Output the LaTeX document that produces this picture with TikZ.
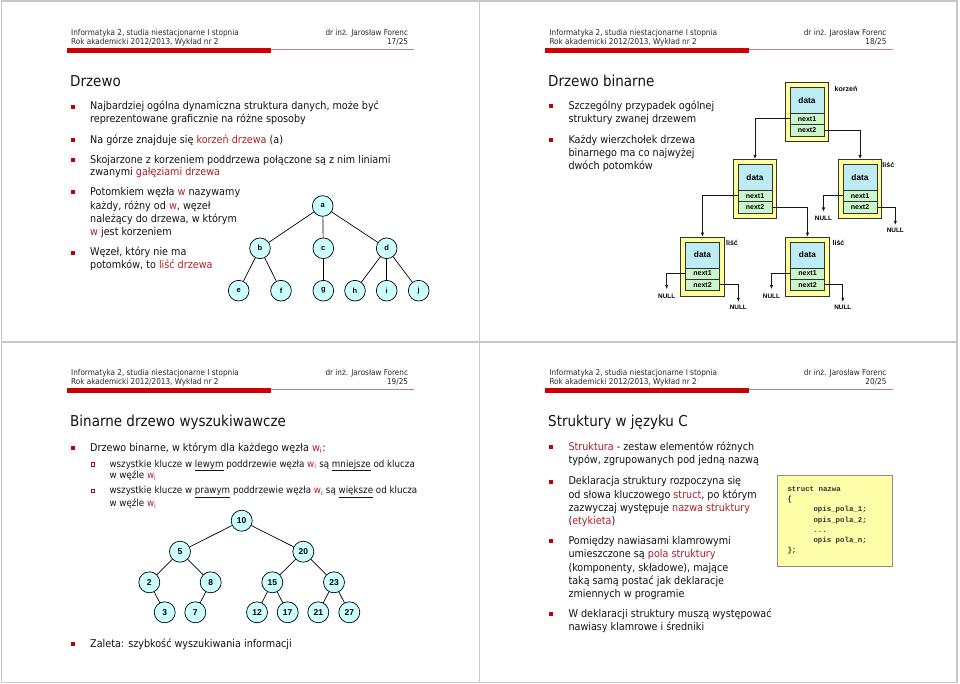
\documentclass[tikz,border=0pt]{standalone}
\usepackage{fontspec}
\setmainfont{DejaVu Sans Condensed}
\newfontfamily\arialf{Liberation Sans}
\newfontfamily\monof{Liberation Mono}
\usetikzlibrary{arrows.meta}
\definecolor{bred}{RGB}{192,0,0}
\definecolor{hred}{RGB}{180,30,40}
\definecolor{barred}{RGB}{204,0,0}
\definecolor{thinred}{RGB}{210,120,120}
\definecolor{framec}{RGB}{200,200,200}
\definecolor{ncyan}{RGB}{204,255,255}
\definecolor{dcyan}{RGB}{190,236,245}
\definecolor{ngreen}{RGB}{204,245,204}
\definecolor{nyellow}{RGB}{255,255,153}
\definecolor{cyellow}{RGB}{255,255,170}
\definecolor{txtc}{RGB}{20,20,20}
\definecolor{hdc}{RGB}{40,40,40}
\definecolor{codec}{RGB}{51,51,51}
\newcommand\hl[1]{{\color{hred}#1}}
\newcommand\wi{{\color{hred}w\textsubscript{i}}}
\newcommand\slidehdr[3]{%
\begin{scope}[shift={(#1,#2)}]
\node[hdt,anchor=base west] (hdA#3) at (71,35.8) {Informatyka 2, studia niestacjonarne I stopnia};
\node[hdt,anchor=base west] (hdB#3) at (71,44.8) {Rok akademicki 2012/2013, Wykład nr 2};
\node[hdt,anchor=base east] (hdC#3) at (408.3,35.8) {dr inż. Jarosław Forenc};
\node[hdt,anchor=base east] (hdD#3) at (408.3,44.8) {#3/25};
\fill[barred] (66.7,48.3) rectangle (270.7,53.3);
\draw[thinred,line width=0.6pt] (270.7,49) -- (414.3,49);
\end{scope}}
\newcommand\bnode[3]{%
\node[bout] (#1o) at (#2,#3+29.65) {};
\node[bdata] (#1d) at (#2,#3+18) {data};
\node[bnext] (#1a) at (#2,#3+36.5) {next1};
\node[bnext,minimum height=11.5pt] (#1b) at (#2,#3+47.75) {next2};
}
\begin{document}
\begin{tikzpicture}[x=1pt,y=-1pt,
  bt/.style={inner sep=0,font=\fontsize{10.7}{12}\selectfont,text=txtc},
  sbt/.style={inner sep=0,font=\fontsize{9.7}{11}\selectfont,text=txtc},
  hdt/.style={inner sep=0,font=\fontsize{8.1}{9}\selectfont,text=hdc},
  ttl/.style={inner sep=0,font=\fontsize{15}{18}\selectfont,text=txtc},
  bul/.style={rectangle,fill=bred,minimum size=4.3pt,inner sep=0},
  sbul/.style={rectangle,draw=bred,line width=0.6pt,fill=white,minimum size=3.6pt,inner sep=0},
  circ/.style={circle,draw=black,line width=0.7pt,fill=ncyan,minimum size=20.7pt,inner sep=0,font=\arialf\bfseries\fontsize{7.5}{8}\selectfont},
  circb/.style={circ,minimum size=21pt,font=\arialf\bfseries\fontsize{8.5}{9}\selectfont},
  edge/.style={draw=black,line width=0.7pt},
  bout/.style={rectangle,draw=black!80,line width=0.7pt,fill=nyellow,minimum width=43.4pt,minimum height=59.3pt,inner sep=0},
  bdata/.style={rectangle,draw=black!80,line width=0.5pt,fill=dcyan,minimum width=33.6pt,minimum height=26pt,inner sep=0,font=\arialf\bfseries\fontsize{8.3}{9}\selectfont},
  bnext/.style={rectangle,draw=black!80,line width=0.5pt,fill=ngreen,minimum width=33.6pt,minimum height=11pt,inner sep=0,font=\arialf\bfseries\fontsize{7}{8}\selectfont},
  nullt/.style={inner sep=0,font=\arialf\bfseries\fontsize{6.4}{7}\selectfont},
  lblt/.style={inner sep=0,font=\arialf\bfseries\fontsize{7}{8}\selectfont},
  arr/.style={draw=black!90,line width=0.7pt,-{Latex[length=4pt,width=3.5pt]}},
  codet/.style={inner sep=0,font=\monof\bfseries\fontsize{7.4}{9}\selectfont,text=codec}
]
\useasboundingbox (0,0) rectangle (960,684);
\fill[white] (0,0) rectangle (960,684);
% frames
\draw[framec,line width=1.4pt] (1.5,1.2) rectangle (956.8,682.7);
\draw[framec,line width=1.4pt] (479.3,1.2) -- (479.3,682.7);
\draw[framec,line width=1.4pt] (1.5,342) -- (956.8,342);

% headers
\slidehdr{0}{0}{17}
\slidehdr{478.3}{0}{18}
\slidehdr{0}{340}{19}
\slidehdr{478.3}{340}{20}

% ===== slide 1 =====
\node[ttl,anchor=base west] (t1) at (70,86.3) {Drzewo};
\node[bul] (s1b1) at (73.2,106.7) {};
\node[bul] (s1b2) at (73.2,140) {};
\node[bul] (s1b3) at (73.2,160) {};
\node[bul] (s1b4) at (73.2,192.3) {};
\node[bul] (s1b5) at (73.2,252.7) {};
\node[bt,anchor=base west] (s1l1) at (90,109.9) {Najbardziej ogólna dynamiczna struktura danych, może być};
\node[bt,anchor=base west] (s1l2) at (90,122.5) {reprezentowane graficznie na różne sposoby};
\node[bt,anchor=base west] (s1l3) at (90,143.2) {Na górze znajduje się \hl{korzeń drzewa} (a)};
\node[bt,anchor=base west] (s1l4) at (90,163.2) {Skojarzone z korzeniem poddrzewa połączone są z nim liniami};
\node[bt,anchor=base west] (s1l5) at (90,175.9) {zwanymi \hl{gałęziami drzewa}};
\node[bt,anchor=base west] (s1l6) at (90,195.5) {Potomkiem węzła \hl{w} nazywamy};
\node[bt,anchor=base west] (s1l7) at (90,209.2) {każdy, różny od \hl{w}, węzeł};
\node[bt,anchor=base west] (s1l8) at (90,222.5) {należący do drzewa, w którym};
\node[bt,anchor=base west] (s1l9) at (90,235.5) {\hl{w} jest korzeniem};
\node[bt,anchor=base west] (s1l10) at (90,255.9) {Węzeł, który nie ma};
\node[bt,anchor=base west] (s1l11) at (90,268.9) {potomków, to \hl{liść drzewa}};
% tree
\node[circ] (ta) at (322.7,206) {a};
\node[circ] (tb) at (260,248.3) {b};
\node[circ] (tc) at (323.3,248.3) {c};
\node[circ] (td) at (386.7,248.3) {d};
\node[circ] (te) at (238.7,290.7) {e};
\node[circ] (tf) at (281,290.7) {f};
\node[circ] (tg) at (323.3,290.7) {g};
\node[circ] (th) at (355,290.7) {h};
\node[circ] (ti) at (386.7,290.7) {i};
\node[circ] (tj) at (418.7,290.7) {j};
\draw[edge] (ta) -- (tb);
\draw[edge] (ta) -- (tc);
\draw[edge] (ta) -- (td);
\draw[edge] (tb) -- (te);
\draw[edge] (tb) -- (tf);
\draw[edge] (tc) -- (tg);
\draw[edge] (td) -- (th);
\draw[edge] (td) -- (ti);
\draw[edge] (td) -- (tj);

% ===== slide 2 =====
\node[ttl,anchor=base west] (t2) at (548,86.3) {Drzewo binarne};
\node[bul] (s2b1) at (551.2,106) {};
\node[bul] (s2b2) at (551.2,140) {};
\node[bt,anchor=base west] (s2l1) at (568.3,109.2) {Szczególny przypadek ogólnej};
\node[bt,anchor=base west] (s2l2) at (568.3,122.5) {struktury zwanej drzewem};
\node[bt,anchor=base west] (s2l3) at (568.3,143.2) {Każdy wierzchołek drzewa};
\node[bt,anchor=base west] (s2l4) at (568.3,156.5) {binarnego ma co najwyżej};
\node[bt,anchor=base west] (s2l5) at (568.3,169.8) {dwóch potomków};
% binary tree
\bnode{R}{807}{82.3}
\bnode{P}{755}{159.3}
\bnode{Q}{860}{159.3}
\bnode{U}{702.5}{237}
\bnode{V}{807.5}{237}
\node[lblt] (lkor) at (846,89) {korzeń};
\node[lblt] (lq) at (888.3,165) {liść};
\node[lblt] (lu) at (732,243.3) {liść};
\node[lblt] (lv) at (838.5,243.3) {liść};
\draw[arr] (Ra.west) -| (Po.north);
\draw[arr] (Rb.east) -| (Qo.north);
\draw[arr] (Pa.west) -| (Uo.north);
\draw[arr] (Pb.east) -| (Vo.north);
% NULLs
\node[nullt] (nQa) at (823.5,218.8) {NULL};
\node[nullt] (nQb) at (895.3,230.8) {NULL};
\node[nullt] (nUa) at (666.7,296.3) {NULL};
\node[nullt] (nUb) at (738.3,307.8) {NULL};
\node[nullt] (nVa) at (771.5,296.3) {NULL};
\node[nullt] (nVb) at (842.8,307.8) {NULL};
\coordinate (cQa) at (823.5,211.5);
\coordinate (cQb) at (895.3,224.8);
\coordinate (cUa) at (666.7,289);
\coordinate (cUb) at (738.3,301.8);
\coordinate (cVa) at (771.5,289);
\coordinate (cVb) at (842.8,301.8);
\draw[arr] (Qa.west) -| (cQa);
\draw[arr] (Qb.east) -| (cQb);
\draw[arr] (Ua.west) -| (cUa);
\draw[arr] (Ub.east) -| (cUb);
\draw[arr] (Va.west) -| (cVa);
\draw[arr] (Vb.east) -| (cVb);

% ===== slide 3 =====
\node[ttl,anchor=base west] (t3) at (70,426.5) {Binarne drzewo wyszukiwawcze};
\node[bul] (s3b1) at (73.2,448.3) {};
\node[bt,anchor=base west] (s3l1) at (90,451.5) {Drzewo binarne, w którym dla każdego węzła \wi:};
\node[sbul] (s3s1) at (92.7,464) {};
\node[sbul] (s3s2) at (92.7,490.7) {};
\node[sbt,anchor=base west] (s3l2) at (109.3,467) {wszystkie klucze w \underline{lewym} poddrzewie węzła \wi\ są \underline{mniejsze} od klucza};
\node[sbt,anchor=base west] (s3l3) at (109.3,478.7) {w węźle \wi};
\node[sbt,anchor=base west] (s3l4) at (109.3,493.7) {wszystkie klucze w \underline{prawym} poddrzewie węzła \wi\ są \underline{większe} od klucza};
\node[sbt,anchor=base west] (s3l5) at (109.3,506.3) {w węźle \wi};
\node[circb] (n10) at (241.7,520.7) {10};
\node[circb] (n5) at (180,551.7) {5};
\node[circb] (n20) at (303.3,551.7) {20};
\node[circb] (n2) at (149.3,582.3) {2};
\node[circb] (n8) at (210.7,582.3) {8};
\node[circb] (n15) at (272.3,582.3) {15};
\node[circb] (n23) at (334,582.3) {23};
\node[circb] (n3) at (164.7,612.3) {3};
\node[circb] (n7) at (195.3,612.3) {7};
\node[circb] (n12) at (257,612.3) {12};
\node[circb] (n17) at (287.7,612.3) {17};
\node[circb] (n21) at (318.3,612.3) {21};
\node[circb] (n27) at (349.3,612.3) {27};
\draw[edge] (n10) -- (n5);
\draw[edge] (n10) -- (n20);
\draw[edge] (n5) -- (n2);
\draw[edge] (n5) -- (n8);
\draw[edge] (n20) -- (n15);
\draw[edge] (n20) -- (n23);
\draw[edge] (n2) -- (n3);
\draw[edge] (n8) -- (n7);
\draw[edge] (n15) -- (n12);
\draw[edge] (n15) -- (n17);
\draw[edge] (n23) -- (n21);
\draw[edge] (n23) -- (n27);
\node[bul] (s3b2) at (73.2,644) {};
\node[bt,anchor=base west] (s3l6) at (90,647.2) {Zaleta: szybkość wyszukiwania informacji};

% ===== slide 4 =====
\node[ttl,anchor=base west] (t4) at (548,426.5) {Struktury w języku C};
\node[bul] (s4b1) at (551.2,447.3) {};
\node[bul] (s4b2) at (551.2,481.7) {};
\node[bul] (s4b3) at (551.2,541.3) {};
\node[bul] (s4b4) at (551.2,614.3) {};
\node[bt,anchor=base west] (s4l1) at (568.3,450.5) {\hl{Struktura} - zestaw elementów różnych};
\node[bt,anchor=base west] (s4l2) at (568.3,463.9) {typów, zgrupowanych pod jedną nazwą};
\node[bt,anchor=base west] (s4l3) at (568.3,484.9) {Deklaracja struktury rozpoczyna się};
\node[bt,anchor=base west] (s4l4) at (568.3,498.2) {od słowa kluczowego \hl{struct}, po którym};
\node[bt,anchor=base west] (s4l5) at (568.3,511.5) {zazwyczaj występuje \hl{nazwa struktury}};
\node[bt,anchor=base west] (s4l6) at (568.3,524.8) {(\hl{etykieta})};
\node[bt,anchor=base west] (s4l7) at (568.3,544.5) {Pomiędzy nawiasami klamrowymi};
\node[bt,anchor=base west] (s4l8) at (568.3,557.8) {umieszczone są \hl{pola struktury}};
\node[bt,anchor=base west] (s4l9) at (568.3,571.1) {(komponenty, składowe), mające};
\node[bt,anchor=base west] (s4l10) at (568.3,584.4) {taką samą postać jak deklaracje};
\node[bt,anchor=base west] (s4l11) at (568.3,597.7) {zmiennych w programie};
\node[bt,anchor=base west] (s4l12) at (568.3,617.5) {W deklaracji struktury muszą występować};
\node[bt,anchor=base west] (s4l13) at (568.3,630.8) {nawiasy klamrowe i średniki};
% code box
\node[rectangle,draw=black!45,line width=0.7pt,fill=cyellow,minimum width=115.4pt,minimum height=91.7pt,inner sep=0] (codebox) at (835,520.85) {};
\node[codet,anchor=base west] (c1) at (787.3,491.5) {struct nazwa};
\node[codet,anchor=base west] (c2) at (787.3,501.7) {\{};
\node[codet,anchor=base west] (c3) at (813.3,511.9) {opis\_pola\_1;};
\node[codet,anchor=base west] (c4) at (813.3,522.1) {opis\_pola\_2;};
\node[codet,anchor=base west] (c5) at (813.3,532.3) {...};
\node[codet,anchor=base west] (c6) at (813.3,542.5) {opis pola\_n;};
\node[codet,anchor=base west] (c7) at (787.3,552.7) {\};};
\end{tikzpicture}
\end{document}
